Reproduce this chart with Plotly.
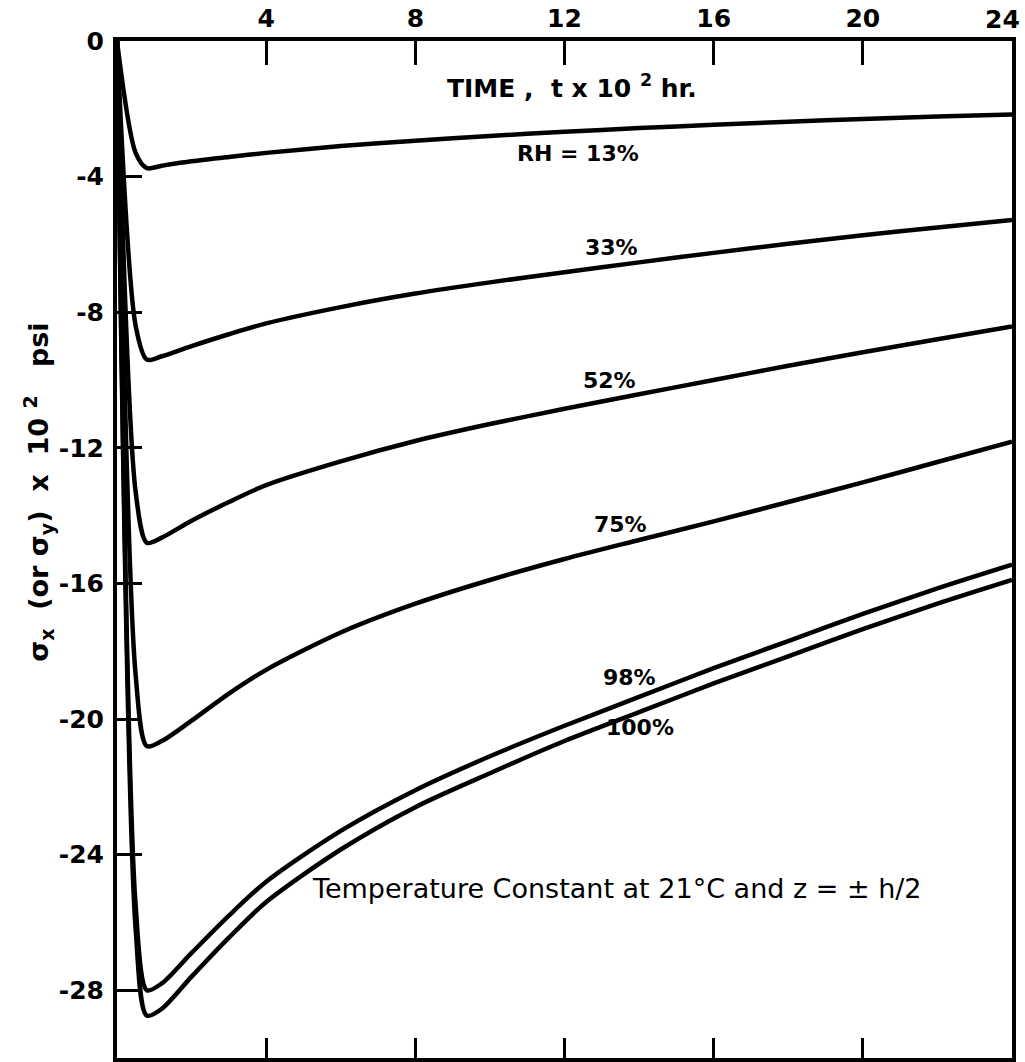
import plotly.graph_objects as go

t = [0, 0.5, 0.8, 1.2, 2, 3, 4, 6, 8, 10, 12, 14, 16, 18, 20, 22, 24]
rh13 = [0, -3.3, -3.75, -3.68, -3.55, -3.42, -3.3, -3.1, -2.94, -2.8, -2.68, -2.57, -2.47, -2.38, -2.3, -2.23, -2.17]
rh33 = [0, -8.4, -9.4, -9.3, -9.0, -8.65, -8.33, -7.85, -7.45, -7.12, -6.82, -6.53, -6.25, -5.98, -5.73, -5.5, -5.28]
rh52 = [0, -13.3, -14.8, -14.65, -14.15, -13.6, -13.1, -12.4, -11.8, -11.3, -10.85, -10.42, -10.0, -9.58, -9.18, -8.8, -8.42]
rh75 = [0, -18.7, -20.8, -20.65, -20.05, -19.25, -18.55, -17.45, -16.6, -15.9, -15.28, -14.72, -14.17, -13.6, -13.02, -12.42, -11.82]
rh98 = [0, -25.5, -28.0, -27.8, -26.9, -25.8, -24.8, -23.3, -22.1, -21.1, -20.2, -19.35, -18.5, -17.7, -16.9, -16.15, -15.45]
rh100 = [0, -26.2, -28.75, -28.55, -27.6, -26.45, -25.4, -23.85, -22.6, -21.6, -20.65, -19.8, -18.95, -18.15, -17.35, -16.6, -15.9]

series = [rh13, rh33, rh52, rh75, rh98, rh100]

label_text = ["RH = 13%", "33%", "52%", "75%", "98%", "100%"]
label_x = [12.36, 13.27, 13.2, 13.5, 13.75, 14.02]
label_y = [-3.32, -6.1, -10.0, -14.25, -18.78, -20.25]

xticks = [4, 8, 12, 16, 20]
yticks = [0, -4, -8, -12, -16, -20, -24, -28]

FONT = "DejaVu Sans"
BOLD = dict(family=FONT, size=25, color="black", weight="bold")

fig = go.Figure()
for s in series:
    fig.add_trace(go.Scatter(x=t, y=s, mode="lines",
                             line=dict(color="black", width=4.5, shape="spline", smoothing=0.8),
                             showlegend=False, hoverinfo="skip"))

fig.update_layout(
    width=1025, height=1062,
    margin=dict(l=117, r=13, t=37, b=4),
    paper_bgcolor="white", plot_bgcolor="white",
    xaxis=dict(range=[0, 24], side="top", tickvals=xticks, ticktext=[str(v) for v in xticks],
               ticks="inside", ticklen=24, tickwidth=3, tickcolor="black",
               showline=True, linewidth=4, linecolor="black", mirror=False,
               showgrid=False, zeroline=False,
               tickfont=BOLD, ticklabelstandoff=0),
    xaxis2=dict(range=[0, 24], overlaying="x", side="bottom", tickvals=[4, 8, 12, 16, 20],
                ticks="inside", ticklen=20, tickwidth=3, tickcolor="black",
                showticklabels=False, showline=True, linewidth=4, linecolor="black",
                showgrid=False, zeroline=False, anchor="y"),
    yaxis=dict(range=[-30, 0], tickvals=yticks, ticktext=[str(v) for v in yticks],
               ticks="inside", ticklen=25, tickwidth=3, tickcolor="black",
               showline=True, linewidth=4, linecolor="black", mirror=False,
               showgrid=False, zeroline=False,
               tickfont=BOLD, ticklabelstandoff=4),
    yaxis2=dict(range=[-30, 0], overlaying="y", side="right", showticklabels=False,
                ticks="", showline=True, linewidth=4, linecolor="black",
                showgrid=False, zeroline=False, anchor="x"),
)
fig.add_trace(go.Scatter(x=[0], y=[0], xaxis="x2", yaxis="y2", mode="markers",
                         marker=dict(opacity=0), showlegend=False, hoverinfo="skip"))

# "24" label at the top-right corner (kept inside the page)
fig.add_annotation(x=1.011, y=1.0, xref="paper", yref="paper", text="24", showarrow=False,
                   xanchor="right", yanchor="bottom", yshift=5, font=BOLD)

# y-axis title
fig.add_annotation(x=-0.088, y=0.556, xref="paper", yref="paper",
                   xanchor="center", yanchor="middle",
                   text="σ<sub>x</sub>  (or σ<sub>y</sub>)  x  10 <sup>2</sup>   psi",
                   textangle=-90, showarrow=False,
                   font=dict(family=FONT, size=27, color="black", weight="bold"))

for txt, lx, ly in zip(label_text, label_x, label_y):
    fig.add_annotation(x=lx, y=ly, text=txt, showarrow=False,
                       font=dict(family=FONT, size=22, color="black", weight="bold"))

fig.add_annotation(x=12.2, y=-1.35, text="TIME ,  t x 10 <sup>2</sup> hr.", showarrow=False,
                   font=dict(family=FONT, size=25, color="black", weight="bold"))
fig.add_annotation(x=13.4, y=-25.0, text="Temperature Constant at 21°C and z = ± h/2",
                   showarrow=False, font=dict(family=FONT, size=27, color="black"))

fig.write_html("out.html")
